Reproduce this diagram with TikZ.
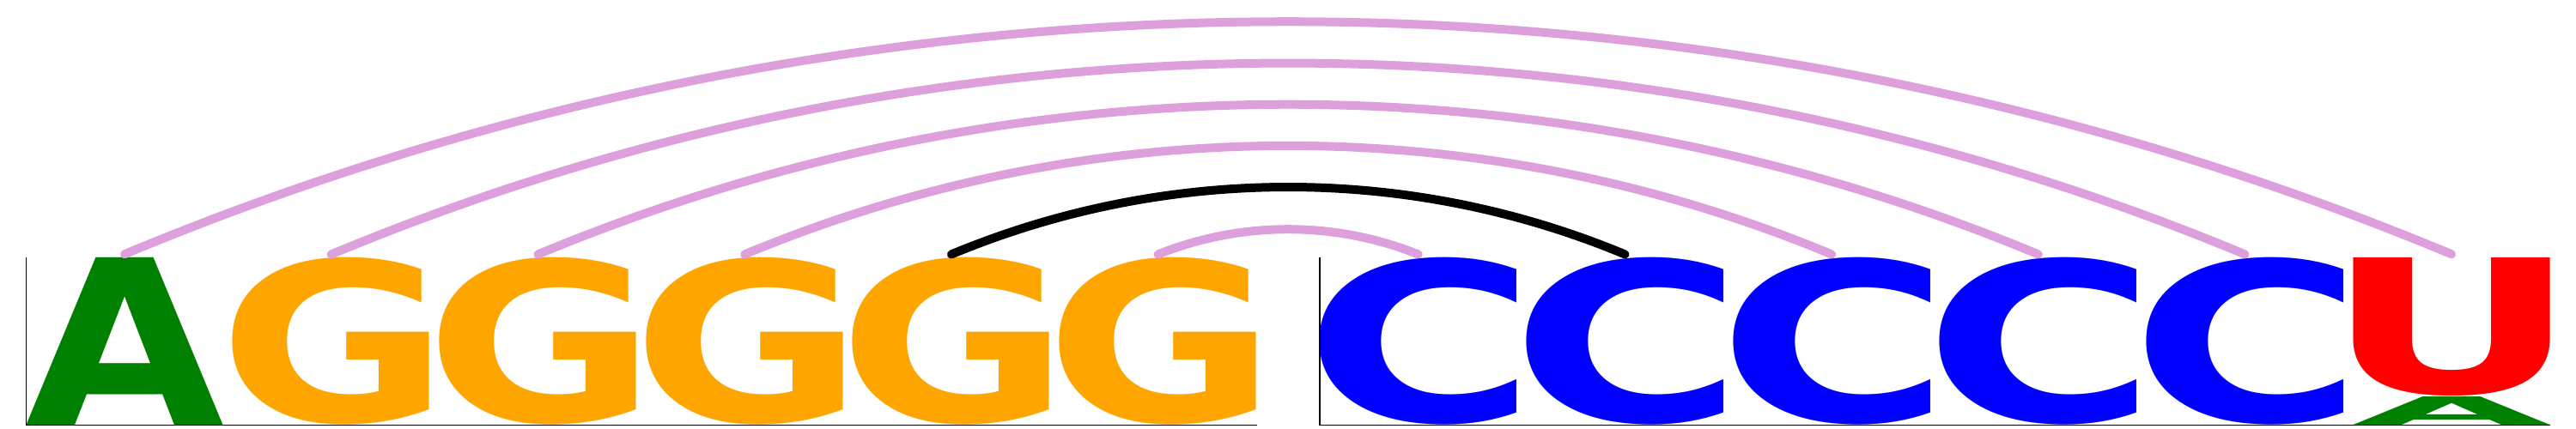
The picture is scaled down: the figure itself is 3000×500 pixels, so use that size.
\documentclass[tikz,border=0pt]{standalone}
\usepackage{fontspec}
\usepackage{graphicx}
\newfontfamily\logofont{DejaVu Sans}
\definecolor{lgreen}{HTML}{008000}
\definecolor{lorange}{HTML}{FFA500}
\definecolor{lblue}{HTML}{0000FF}
\definecolor{lred}{HTML}{FF0000}
\definecolor{lplum}{HTML}{DDA0DD}
\newsavebox\glybox
\newdimen\glyL \newdimen\glyT \newdimen\glyR \newdimen\glyB
\newcommand\inkglyph[3]{%
  \begingroup
  \logofont\bfseries
  \glyL=\XeTeXglyphbounds1 \XeTeXcharglyph`#3\relax
  \glyT=\XeTeXglyphbounds2 \XeTeXcharglyph`#3\relax
  \glyR=\XeTeXglyphbounds3 \XeTeXcharglyph`#3\relax
  \glyB=\XeTeXglyphbounds4 \XeTeXcharglyph`#3\relax
  \sbox\glybox{\kern-\glyL #3\kern-\glyR}%
  \ht\glybox=\glyT \dp\glybox=\glyB
  \resizebox*{#1}{#2}{\usebox\glybox}%
  \endgroup}
\tikzset{
  letter/.style={anchor=south west, inner sep=0pt, outer sep=0pt},
  pairarc/.style={line width=10pt, line cap=round, lplum},
  strongarc/.style={line width=10pt, line cap=round, black},
  axisline/.style={line width=1.6pt, black},
}
\begin{document}
\begin{tikzpicture}[x=1pt,y=-1pt]
\fill[white] (0,0) rectangle (3000,500);
\useasboundingbox (0,0) rectangle (3000,500);
% left group
\node[letter, text=lgreen]  (L0) at (30.5,495.5) {\inkglyph{229pt}{195pt}{A}};
\node[letter, text=lorange] (L1) at (271.2,495.5) {\inkglyph{229pt}{195pt}{G}};
\node[letter, text=lorange] (L2) at (511.9,495.5) {\inkglyph{229pt}{195pt}{G}};
\node[letter, text=lorange] (L3) at (752.6,495.5) {\inkglyph{229pt}{195pt}{G}};
\node[letter, text=lorange] (L4) at (993.3,495.5) {\inkglyph{229pt}{195pt}{G}};
\node[letter, text=lorange] (L5) at (1234.0,495.5) {\inkglyph{229pt}{195pt}{G}};
% right group
\node[letter, text=lblue] (R0) at (1537.0,495.5) {\inkglyph{229pt}{195pt}{C}};
\node[letter, text=lblue] (R1) at (1777.7,495.5) {\inkglyph{229pt}{195pt}{C}};
\node[letter, text=lblue] (R2) at (2018.4,495.5) {\inkglyph{229pt}{195pt}{C}};
\node[letter, text=lblue] (R3) at (2259.1,495.5) {\inkglyph{229pt}{195pt}{C}};
\node[letter, text=lblue] (R4) at (2499.8,495.5) {\inkglyph{229pt}{195pt}{C}};
\node[letter, text=lgreen] (R5a) at (2740.5,495.5) {\inkglyph{229pt}{33pt}{A}};
\node[letter, text=lred]   (R5) at (2740.5,461.5) {\inkglyph{229pt}{161pt}{U}};
% axes
\draw[axisline] (30.5,300) -- (30.5,495.5) -- (1464,495.5);
\draw[axisline] (1537,300) -- (1537,495.5) -- (2970,495.5);
% arcs
\draw[pairarc] ([yshift=4pt]L0.north) .. controls +(867.2,-361.4) and +(-867.2,-361.4) .. ([yshift=4pt]R5.north);
\draw[pairarc] ([yshift=4pt]L1.north) .. controls +(713.2,-297.2) and +(-713.2,-297.2) .. ([yshift=4pt]R4.north);
\draw[pairarc] ([yshift=4pt]L2.north) .. controls +(559.1,-233.0) and +(-559.1,-233.0) .. ([yshift=4pt]R3.north);
\draw[pairarc] ([yshift=4pt]L3.north) .. controls +(405.1,-168.8) and +(-405.1,-168.8) .. ([yshift=4pt]R2.north);
\draw[strongarc] ([yshift=4pt]L4.north) .. controls +(251.0,-104.6) and +(-251.0,-104.6) .. ([yshift=4pt]R1.north);
\draw[pairarc] ([yshift=4pt]L5.north) .. controls +(97.0,-39.0) and +(-97.0,-39.0) .. ([yshift=4pt]R0.north);
\end{tikzpicture}
\end{document}
